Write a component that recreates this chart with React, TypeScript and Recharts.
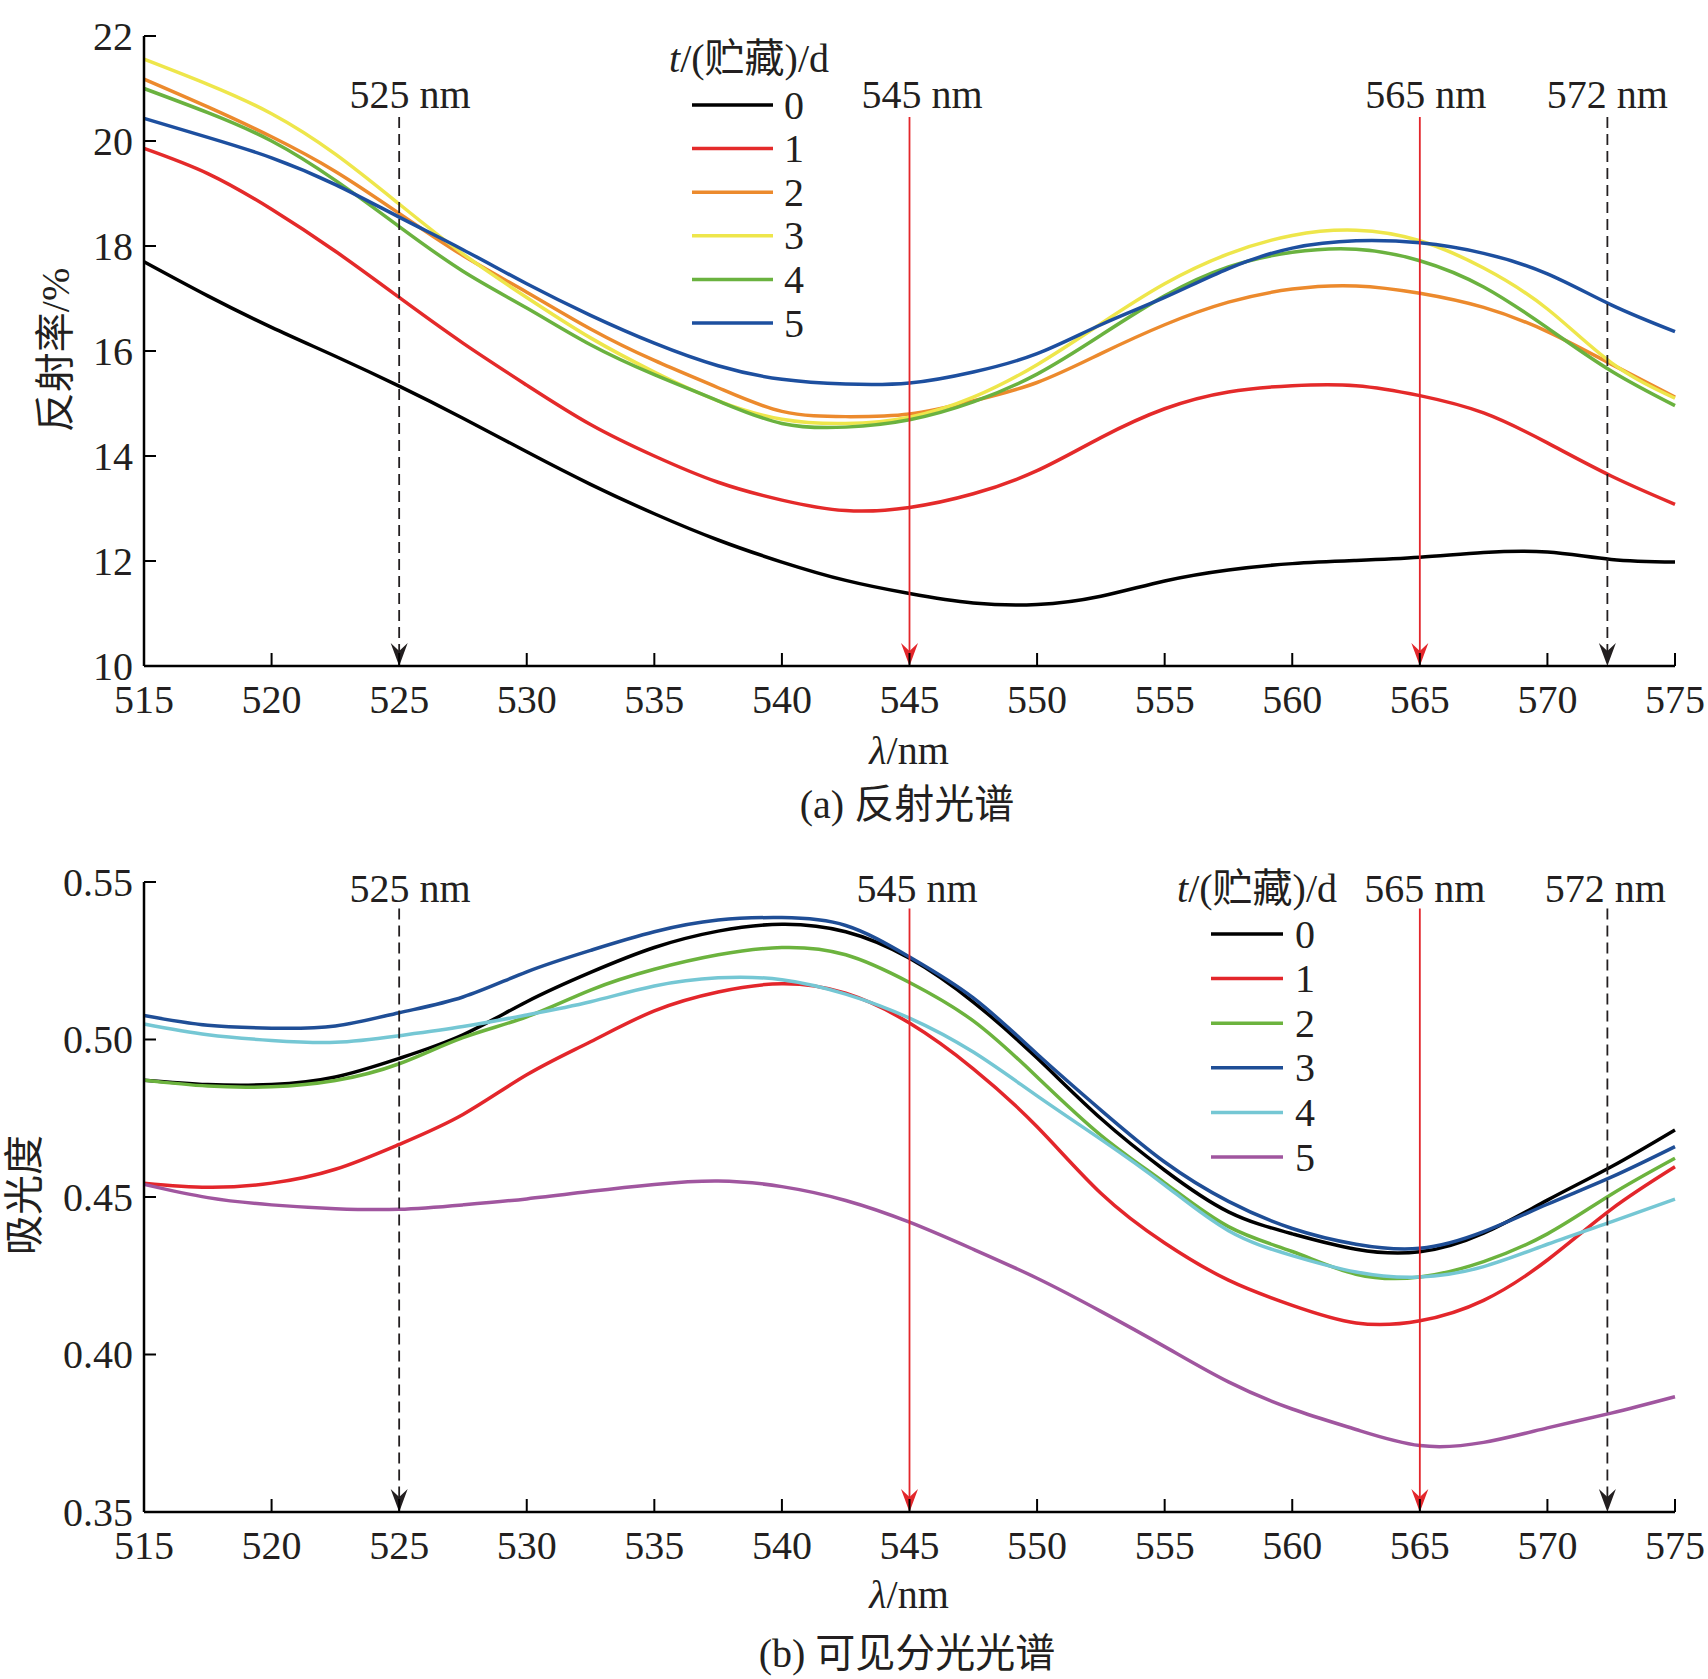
import React from 'react';
import { LineChart, Line, XAxis, YAxis, ReferenceLine, Legend } from 'recharts';

// ---------- data ----------
const WAVELENGTHS = [515, 517.5, 520, 522.5, 525, 527.5, 530, 532.5, 535, 537.5, 540, 542.5, 545, 547.5, 550, 552.5, 555, 557.5, 560, 562.5, 565, 567.5, 570, 572.5, 575];

// (a) reflectance %, storage days 0..5
const REFL_0 = [17.70, 17.05, 16.45, 15.90, 15.33, 14.72, 14.08, 13.46, 12.90, 12.40, 11.98, 11.63, 11.38, 11.20, 11.17, 11.33, 11.62, 11.83, 11.95, 12.01, 12.07, 12.16, 12.17, 12.03, 11.98];
const REFL_1 = [19.86, 19.38, 18.70, 17.90, 17.02, 16.15, 15.35, 14.60, 14.00, 13.50, 13.16, 12.96, 13.02, 13.28, 13.72, 14.35, 14.90, 15.22, 15.34, 15.34, 15.15, 14.82, 14.25, 13.62, 13.08];
const REFL_2 = [21.18, 20.65, 20.08, 19.42, 18.62, 17.82, 17.12, 16.42, 15.82, 15.30, 14.85, 14.75, 14.80, 15.05, 15.40, 15.95, 16.50, 16.93, 17.18, 17.24, 17.10, 16.83, 16.37, 15.75, 15.12];
const REFL_3 = [21.56, 21.08, 20.52, 19.75, 18.80, 17.85, 17.02, 16.25, 15.60, 15.05, 14.70, 14.62, 14.74, 15.12, 15.74, 16.52, 17.28, 17.85, 18.20, 18.30, 18.10, 17.58, 16.80, 15.78, 15.10];
const REFL_4 = [21.00, 20.54, 20.00, 19.25, 18.37, 17.52, 16.82, 16.12, 15.55, 15.05, 14.62, 14.55, 14.69, 15.03, 15.56, 16.30, 17.05, 17.60, 17.88, 17.94, 17.72, 17.22, 16.44, 15.62, 14.96];
const REFL_5 = [20.43, 20.07, 19.68, 19.17, 18.55, 17.93, 17.28, 16.68, 16.15, 15.72, 15.46, 15.37, 15.39, 15.60, 15.95, 16.50, 17.02, 17.57, 17.96, 18.10, 18.06, 17.86, 17.47, 16.88, 16.37];

// (b) absorbance, storage days 0..5
const ABS_0 = [0.4871, 0.4857, 0.4857, 0.4881, 0.4940, 0.5015, 0.5120, 0.5213, 0.5292, 0.5344, 0.5366, 0.5342, 0.5258, 0.5119, 0.4941, 0.4749, 0.4585, 0.4453, 0.4383, 0.4334, 0.4326, 0.4385, 0.4490, 0.4596, 0.4713];
const ABS_1 = [0.4544, 0.4531, 0.4544, 0.4588, 0.4667, 0.4762, 0.4888, 0.4993, 0.5091, 0.5151, 0.5177, 0.5147, 0.5052, 0.4907, 0.4723, 0.4512, 0.4354, 0.4236, 0.4156, 0.4100, 0.4107, 0.4172, 0.4300, 0.4461, 0.4596];
const ABS_2 = [0.4871, 0.4852, 0.4850, 0.4870, 0.4923, 0.5006, 0.5072, 0.5157, 0.5223, 0.5269, 0.5292, 0.5269, 0.5181, 0.5059, 0.4881, 0.4696, 0.4545, 0.4406, 0.4327, 0.4255, 0.4246, 0.4295, 0.4383, 0.4508, 0.4623];
const ABS_3 = [0.5076, 0.5045, 0.5036, 0.5043, 0.5085, 0.5135, 0.5215, 0.5283, 0.5342, 0.5379, 0.5387, 0.5362, 0.5262, 0.5132, 0.4954, 0.4776, 0.4611, 0.4486, 0.4400, 0.4350, 0.4337, 0.4390, 0.4477, 0.4563, 0.4660];
const ABS_4 = [0.5049, 0.5015, 0.4997, 0.4991, 0.5012, 0.5041, 0.5078, 0.5120, 0.5170, 0.5196, 0.5190, 0.5144, 0.5068, 0.4960, 0.4821, 0.4683, 0.4538, 0.4393, 0.4314, 0.4262, 0.4246, 0.4279, 0.4350, 0.4421, 0.4493];
const ABS_5 = [0.4540, 0.4498, 0.4475, 0.4463, 0.4461, 0.4475, 0.4494, 0.4518, 0.4540, 0.4551, 0.4533, 0.4489, 0.4420, 0.4334, 0.4242, 0.4137, 0.4025, 0.3913, 0.3827, 0.3762, 0.3711, 0.3721, 0.3767, 0.3814, 0.3866];

const SERIES_NAMES = ['0', '1', '2', '3', '4', '5'];
const X_TICKS = [515, 520, 525, 530, 535, 540, 545, 550, 555, 560, 565, 570, 575];
const REFL_TICKS = [10, 12, 14, 16, 18, 20, 22];
const ABS_TICKS = [0.35, 0.4, 0.45, 0.5, 0.55];

const MARKER_POS = [525, 545, 565, 572.35];
const MARKER_LABELS = ['525 nm', '545 nm', '565 nm', '572 nm'];
const MARKER_RED = [false, true, true, false];

// ---------- styles ----------
const FONT = "'Liberation Serif', 'Times New Roman', 'Noto Sans CJK SC', serif";
const TEXT = '#231f20';
const FS = 40;

const REFL_COLORS = ['#000000', '#e42a2a', '#ec8a2d', '#eee64b', '#6ab23f', '#1d4f9f'];
const ABS_COLORS = ['#000000', '#e3262b', '#6cb33e', '#1f4e96', '#75c7d4', '#a0569f'];

const reflSeries = [REFL_0, REFL_1, REFL_2, REFL_3, REFL_4, REFL_5];
const absSeries = [ABS_0, ABS_1, ABS_2, ABS_3, ABS_4, ABS_5];

const reflData = WAVELENGTHS.map((x, i) => {
  const row: any = { x };
  reflSeries.forEach((s, k) => (row['s' + k] = s[i]));
  return row;
});
const absData = WAVELENGTHS.map((x, i) => {
  const row: any = { x };
  absSeries.forEach((s, k) => (row['s' + k] = s[i]));
  return row;
});

const XTick = (props: any) => {
  const { x, y, payload } = props;
  return (
    <g>
      <line x1={x} y1={y} x2={x} y2={y - 13} stroke="#000" strokeWidth={2} />
      <text x={x} y={y + 47} textAnchor="middle" fontSize={FS} fontFamily={FONT} fill={TEXT}>
        {payload.value}
      </text>
    </g>
  );
};

const makeYTick = (fmt: (v: number) => string) => (props: any) => {
  const { x, y, payload } = props;
  return (
    <g>
      <line x1={x} y1={y} x2={x + 12} y2={y} stroke="#000" strokeWidth={2} />
      <text x={x - 11} y={y + 13.5} textAnchor="end" fontSize={FS} fontFamily={FONT} fill={TEXT}>
        {fmt(payload.value)}
      </text>
    </g>
  );
};

const makeMarker = (red: boolean, label: string, dx: number, gap: number) => (props: any) => {
  const { x1, y1, y2 } = props;
  const top = Math.min(y1, y2);
  const bot = Math.max(y1, y2);
  const x = x1;
  const color = red ? '#e3262b' : '#231f20';
  return (
    <g>
      <line
        x1={x}
        y1={top}
        x2={x}
        y2={bot - 14}
        stroke={color}
        strokeWidth={1.8}
        strokeDasharray={red ? undefined : '11 6'}
      />
      <path d={`M${x},${bot} L${x - 8.5},${bot - 23} L${x},${bot - 15} L${x + 8.5},${bot - 23} Z`} fill={color} />
      <text x={x + dx} y={top - gap} textAnchor="middle" fontSize={FS} fontFamily={FONT} fill={TEXT}>
        {label}
      </text>
    </g>
  );
};

const makeLegend = (cfg: any) => (props: any) => {
  const payload = props.payload || [];
  return (
    <svg width={cfg.w} height={cfg.h} style={{ display: 'block', overflow: 'visible' }}>
      <text x={cfg.titleX} y={cfg.titleY} fontSize={FS} fontFamily={FONT} fill={TEXT}>
        <tspan fontStyle="italic">t</tspan>/(贮藏)/d
      </text>
      {payload.map((p: any, i: number) => {
        const y = cfg.row0 + i * cfg.rowGap;
        return (
          <g key={i}>
            <line x1={cfg.lineX1} x2={cfg.lineX2} y1={y} y2={y} stroke={p.color} strokeWidth={3.5} />
            <text x={cfg.labelX} y={y + 13.5} fontSize={FS} fontFamily={FONT} fill={TEXT}>
              {p.value}
            </text>
          </g>
        );
      })}
    </svg>
  );
};

interface PanelProps {
  data: any[];
  colors: string[];
  height: number;
  marginTop: number;
  marginBottom: number;
  yDomain: [number, number];
  yTicks: number[];
  yFmt: (v: number) => string;
  markerTop: number;
  markerBottom: number;
  markerDx: number[];
  markerGap: number;
  legendCfg: any;
  legendPos: { left: number; top: number };
  yLabel: string;
  yLabelPos: { x: number; y: number };
  xLabelY: number;
  title: string;
  titleY: number;
}

const Panel = (p: PanelProps) => (
  <LineChart
    width={1708}
    height={p.height}
    data={p.data}
    margin={{ top: p.marginTop, right: 33, bottom: p.marginBottom, left: 0 }}
  >
    <XAxis
      dataKey="x"
      type="number"
      domain={[515, 575]}
      ticks={X_TICKS}
      interval={0}
      height={40}
      tickSize={0}
      tickMargin={0}
      tickLine={false}
      axisLine={{ stroke: '#000', strokeWidth: 2.5 }}
      tick={XTick}
      label={{
        content: () => (
          <g>
            <text x={909} y={p.xLabelY} textAnchor="middle" fontSize={FS} fontFamily={FONT} fill={TEXT}>
              <tspan fontStyle="italic">λ</tspan>/nm
            </text>
            <text x={907} y={p.titleY} textAnchor="middle" fontSize={FS} fontFamily={FONT} fill={TEXT}>
              {p.title}
            </text>
          </g>
        ),
      }}
    />
    <YAxis
      type="number"
      domain={p.yDomain}
      ticks={p.yTicks}
      interval={0}
      width={144}
      tickSize={0}
      tickMargin={0}
      tickLine={false}
      axisLine={{ stroke: '#000', strokeWidth: 2.5 }}
      tick={makeYTick(p.yFmt)}
      label={{
        content: () => (
          <text
            x={p.yLabelPos.x}
            y={p.yLabelPos.y}
            transform={`rotate(-90, ${p.yLabelPos.x}, ${p.yLabelPos.y})`}
            textAnchor="middle"
            dominantBaseline="central"
            fontSize={FS}
            fontFamily={FONT}
            fill={TEXT}
          >
            {p.yLabel}
          </text>
        ),
      }}
    />
    {SERIES_NAMES.map((n, k) => (
      <Line
        key={n}
        name={n}
        dataKey={'s' + k}
        type="natural"
        stroke={p.colors[k]}
        strokeWidth={3.5}
        dot={false}
        activeDot={false}
        isAnimationActive={false}
      />
    ))}
    {MARKER_POS.map((m, i) => (
      <ReferenceLine
        key={m}
        segment={[
          { x: m, y: p.markerTop },
          { x: m, y: p.markerBottom },
        ]}
        shape={makeMarker(MARKER_RED[i], MARKER_LABELS[i], p.markerDx[i], p.markerGap)}
      />
    ))}
    <Legend
      layout="horizontal"
      align="center"
      verticalAlign="middle"
      content={makeLegend(p.legendCfg)}
      wrapperStyle={{ left: p.legendPos.left, top: p.legendPos.top, width: p.legendCfg.w, height: p.legendCfg.h }}
    />
  </LineChart>
);

export default function App() {
  return (
    <div
      style={{
        position: 'absolute',
        left: 0,
        top: 0,
        width: 1708,
        height: 1679,
        background: '#fff',
        overflow: 'hidden',
      }}
    >
      <div style={{ position: 'absolute', left: 0, top: 0 }}>
        <Panel
          data={reflData}
          colors={REFL_COLORS}
          height={840}
          marginTop={36}
          marginBottom={134}
          yDomain={[10, 22]}
          yTicks={REFL_TICKS}
          yFmt={(v) => String(v)}
          markerTop={20.457}
          markerBottom={10}
          markerDx={[11, 12.5, 6, 0]}
          markerGap={9}
          legendCfg={{ w: 200, h: 320, titleX: 9, titleY: 42, row0: 75, rowGap: 43.6, lineX1: 32, lineX2: 113, labelX: 124 }}
          legendPos={{ left: 660, top: 30 }}
          yLabel="反射率/%"
          yLabelPos={{ x: 55, y: 350 }}
          xLabelY={764}
          title="(a) 反射光谱"
          titleY={818}
        />
      </div>
      <div style={{ position: 'absolute', left: 0, top: 840 }}>
        <Panel
          data={absData}
          colors={ABS_COLORS}
          height={839}
          marginTop={42}
          marginBottom={127}
          yDomain={[0.35, 0.55]}
          yTicks={ABS_TICKS}
          yFmt={(v) => v.toFixed(2)}
          markerTop={0.5416}
          markerBottom={0.35}
          markerDx={[11, 7.5, 5, -2]}
          markerGap={6.5}
          legendCfg={{ w: 200, h: 330, titleX: 7, titleY: 32, row0: 64, rowGap: 44.6, lineX1: 41, lineX2: 113, labelX: 125 }}
          legendPos={{ left: 1170, top: 30 }}
          yLabel="吸光度"
          yLabelPos={{ x: 24, y: 355 }}
          xLabelY={768}
          title="(b) 可见分光光谱"
          titleY={827}
        />
      </div>
    </div>
  );
}
